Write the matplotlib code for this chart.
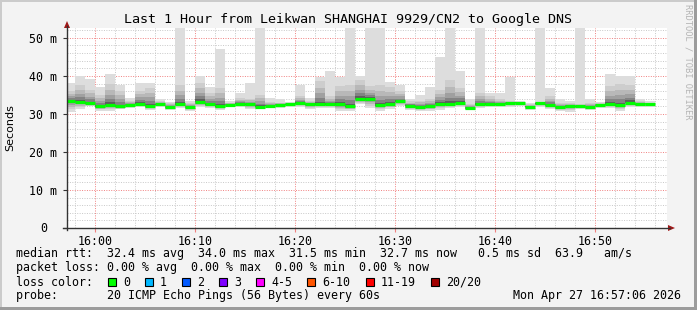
import matplotlib
matplotlib.use("Agg")
import numpy as np
import pandas as pd
import matplotlib.pyplot as plt
from matplotlib.patches import Rectangle, Polygon
from matplotlib.lines import Line2D

# === data (one step = 60 s, 20 pings each) ===
times = pd.date_range("2026-04-27 15:57", periods=59, freq="60s")

median_ms = [33.4, 33.2, 32.8, 32.0, 32.4, 32.0, 32.3, 32.7, 32.1, 32.5,
             31.8, 32.5, 31.8, 33.2, 32.5, 32.0, 32.4, 32.7, 32.5, 31.9,
             32.2, 32.4, 32.5, 32.8, 32.5, 32.5, 32.5, 32.5, 32.0, 34.0,
             34.0, 32.3, 32.6, 33.3, 32.2, 31.9, 32.0, 32.7, 32.5, 33.0,
             31.5, 32.5, 32.5, 32.5, 32.8, 33.0, 31.9, 32.8, 32.4, 31.8,
             32.0, 32.0, 31.8, 32.3, 32.5, 32.3, 33.0, 32.5, 32.7]

# fastest ping of each step
min_ms = [30.5, 31.3, 32.0, 30.9, 30.9, 31.2, 31.6, 31.8, 31.1, 31.8,
          31.1, 31.6, 30.9, 31.8, 31.6, 31.1, 31.8, 31.8, 31.2, 31.2,
          31.6, 31.6, 31.8, 31.8, 31.2, 31.6, 31.6, 30.9, 30.9, 32.5,
          31.6, 30.9, 31.4, 32.0, 31.1, 30.7, 30.9, 31.1, 31.6, 31.8,
          31.1, 31.6, 31.8, 31.8, 31.9, 32.0, 31.1, 31.8, 31.4, 30.7,
          30.6, 31.3, 31.1, 31.6, 31.6, 30.9, 31.8, 31.8, 31.8]

# upper edge of the dense part of the smoke
upper_ms = [36.0, 37.5, 36.4, 35.1, 37.9, 36.0, 33.4, 36.1, 36.8, 33.3,
            32.9, 37.5, 33.0, 38.2, 35.4, 36.7, 33.0, 34.2, 34.0, 34.9,
            33.2, 33.0, 33.0, 34.6, 33.5, 38.6, 34.6, 37.3, 37.7, 39.0,
            37.3, 37.5, 37.0, 36.0, 33.3, 33.5, 33.8, 36.4, 39.0, 36.8,
            32.5, 35.5, 34.6, 33.8, 33.3, 33.2, 32.5, 33.2, 34.6, 33.0,
            32.8, 32.6, 33.0, 32.8, 37.3, 37.9, 37.7, 33.4, 33.0]

# slowest ping of each step (60 = off the top of the graph)
max_ms = [38.2, 39.9, 39.3, 37.0, 40.4, 37.5, 34.2, 38.1, 38.1, 33.8,
          33.2, 60.0, 33.5, 39.9, 37.2, 47.2, 33.5, 35.5, 38.2, 60.0,
          34.2, 34.0, 33.2, 37.5, 34.2, 39.6, 41.2, 39.7, 60.0, 40.1,
          60.0, 60.0, 38.4, 37.5, 34.0, 35.1, 37.0, 44.9, 60.0, 41.2,
          33.8, 60.0, 35.6, 35.6, 39.6, 33.5, 33.0, 60.0, 36.7, 33.9,
          33.3, 60.0, 33.8, 33.2, 40.4, 40.1, 39.9, 34.0, 33.5]

y_ticks = [0, 10, 20, 30, 40, 50]
y_labels = ["", "10 m", "20 m", "30 m", "40 m", "50 m"]
x_ticks = [0, 10, 20, 30, 40, 50]
x_labels = ["16:00", "16:10", "16:20", "16:30", "16:40", "16:50"]

loss_labels = ["0", "1", "2", "3", "4-5", "6-10", "11-19", "20/20"]
loss_colors = ["#00ff00", "#00b8ff", "#0059ff", "#7e00ff",
               "#ff00ff", "#ff5500", "#ff0000", "#a10000"]

# === layout helpers (pixel coords) ===
W, H = 697, 310
MONO = "DejaVu Sans Mono"
FS = 8.4


def fx(x):
    return x / W


def fy(y):
    return 1 - y / H


fig = plt.figure(figsize=(W / 100, H / 100), dpi=100, facecolor="#f3f3f3")

# bevel frame
fig.patches.append(Rectangle((0, fy(2)), 1, 2 / H, transform=fig.transFigure,
                             color="#cbcbcb", lw=0))
fig.patches.append(Rectangle((0, 0), 2 / W, 1, transform=fig.transFigure,
                             color="#cbcbcb", lw=0))
fig.patches.append(Rectangle((fx(694), 0), 3 / W, 1, transform=fig.transFigure,
                             color="#9c9c9c", lw=0))
fig.patches.append(Rectangle((0, 0), 1, 3 / H, transform=fig.transFigure,
                             color="#9c9c9c", lw=0))

ax = fig.add_axes([fx(67), fy(228), 600 / W, 200 / H])
ax.set_facecolor("white")
ax.set_xlim(-2.8, 57.2)
ax.set_ylim(0, 52.6)

# grid
for v in np.arange(0, 53, 2):
    if v % 10:
        ax.axhline(v, color="#c8c8c8", lw=0.7, ls=(0, (1, 1.5)), zorder=0)
for v in np.arange(-2, 58, 2):
    if v % 10:
        ax.axvline(v, color="#c8c8c8", lw=0.7, ls=(0, (1, 1.5)), zorder=0)
for v in y_ticks[1:]:
    ax.axhline(v, color="#f08080", lw=0.7, ls=(0, (1, 1.5)), zorder=0.5)
for v in x_ticks:
    ax.axvline(v, color="#f08080", lw=0.7, ls=(0, (1, 1.5)), zorder=0.5)

# smoke
xs = ((times - pd.Timestamp("2026-04-27 16:00")) / pd.Timedelta("1min")).to_numpy()
med = np.array(median_ms)
lo = np.array(min_ms)
up = np.array(upper_ms)
hi = np.array(max_ms)

ax.bar(xs, hi - lo, bottom=lo, width=1, align="edge", color="#dddddd", lw=0, zorder=2)
shades = [(1.0, "#cdcdcd"), (0.72, "#b8b8b8"), (0.48, "#a0a0a0"),
          (0.28, "#838383"), (0.12, "#5e5e5e")]
for f, c in shades:
    b = med - (med - lo) * f * 0.75
    t = med + (up - med) * f
    ax.bar(xs, t - b, bottom=b, width=1, align="edge", color=c, lw=0, zorder=3)

ax.hlines(med, xs, xs + 1, color="#00ff00", lw=2.3, zorder=5)

for s in ax.spines.values():
    s.set_visible(False)

ax.set_yticks(y_ticks, labels=y_labels)
ax.set_xticks(x_ticks, labels=x_labels)
ax.tick_params(axis="y", length=3, width=0.8, color="#333333", pad=4,
               labelsize=FS, labelfontfamily=MONO)
ax.tick_params(axis="x", length=3, width=0.8, color="#f08080", pad=2,
               labelsize=FS, labelfontfamily=MONO)
ax.annotate("0", xy=(0, 0), xycoords=("axes fraction", "data"),
            xytext=(-20, 0), textcoords="offset pixels", ha="right", va="center",
            family=MONO, fontsize=FS)

# axes with arrows
fig.lines.append(Line2D([fx(67), fx(67)], [fy(230), fy(26)], transform=fig.transFigure,
                        color="#333333", lw=1))
fig.lines.append(Line2D([fx(63), fx(670)], [fy(228), fy(228)], transform=fig.transFigure,
                        color="#333333", lw=1))
fig.patches.append(Polygon([[fx(64), fy(28)], [fx(70), fy(28)], [fx(67), fy(21)]],
                           transform=fig.transFigure, color="#a01818", lw=0))
fig.patches.append(Polygon([[fx(668), fy(225)], [fx(668), fy(231)], [fx(675), fy(228)]],
                           transform=fig.transFigure, color="#a01818", lw=0))

# titles
fig.text(fx(348), fy(19), "Last 1 Hour from Leikwan SHANGHAI 9929/CN2 to Google DNS",
         ha="center", va="center", family=MONO, fontsize=9.6)
fig.text(fx(10), fy(128), "Seconds", rotation=90, ha="center", va="center",
         family="DejaVu Sans", fontsize=8)
fig.text(fx(688), fy(4), "RRDTOOL / TOBI OETIKER", rotation=270, ha="center", va="top",
         family=MONO, fontsize=6.3, color="#b4b4b4")

# legend rows
fig.text(fx(16), fy(254), "median rtt:  32.4 ms avg  34.0 ms max  31.5 ms min  "
         "32.7 ms now   0.5 ms sd  63.9   am/s", va="center", family=MONO, fontsize=FS)
fig.text(fx(16), fy(268), "packet loss: 0.00 % avg  0.00 % max  0.00 % min  0.00 % now",
         va="center", family=MONO, fontsize=FS)
fig.text(fx(16), fy(282), "loss color:", va="center", family=MONO, fontsize=FS)
box_x = [108, 145, 182, 219, 256, 307, 366, 431]
for bx, lab, col in zip(box_x, loss_labels, loss_colors):
    fig.patches.append(Rectangle((fx(bx), fy(286)), 8 / W, 8 / H, transform=fig.transFigure,
                                 facecolor=col, edgecolor="black", lw=0.8))
    fig.text(fx(bx + 15), fy(282), lab, va="center", family=MONO, fontsize=FS)
fig.text(fx(16), fy(296), "probe:       20 ICMP Echo Pings (56 Bytes) every 60s",
         va="center", family=MONO, fontsize=FS)
fig.text(fx(681), fy(296), "Mon Apr 27 16:57:06 2026", ha="right", va="center",
         family=MONO, fontsize=FS)

fig.savefig("out.png", dpi=100, facecolor=fig.get_facecolor())
